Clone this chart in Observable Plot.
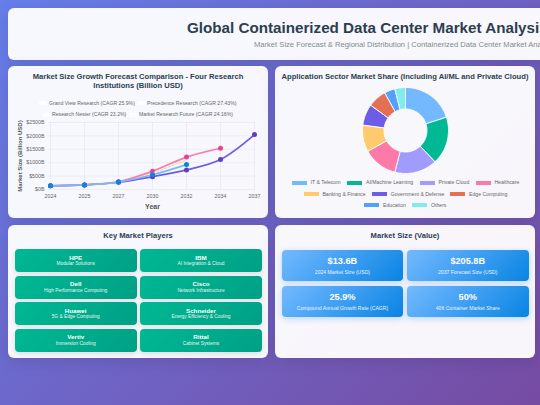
<!DOCTYPE html>
<html><head><meta charset="utf-8">
<script src="https://cdn.jsdelivr.net/npm/d3@7"></script>
<script src="https://cdn.jsdelivr.net/npm/@observablehq/plot@0.6"></script>
<style>
*{box-sizing:border-box;margin:0;padding:0}
html,body{width:540px;height:405px;overflow:hidden}
body{background:linear-gradient(135deg,#667eea 0%,#764ba2 100%);font-family:"Liberation Sans",Arial,sans-serif;position:relative}
.card{position:absolute;background:rgba(255,255,255,.95);border-radius:6px;box-shadow:0 4px 16px rgba(0,0,0,.1)}
#hdr{left:8px;top:8px;width:695px;height:52px}
#hdr h1{font-size:15.2px;line-height:18px;color:#2c3e50;margin-top:11px;margin-left:179px;font-weight:700;white-space:nowrap}
#hdr p{font-size:7.6px;line-height:9px;color:#7f8c8d;margin-top:3px;margin-left:246px;white-space:nowrap}
.t{font-weight:700;font-size:7.6px;line-height:9px;color:#2c3e50;text-align:center}
#c1{left:8px;top:66px;width:260px;height:152px}
#c2{left:275px;top:66px;width:260px;height:152px}
#c3{left:8px;top:225px;width:260px;height:133px}
#c4{left:275px;top:225px;width:260px;height:133px}
.abs{position:absolute}
.leg{position:absolute;font-size:5.15px;color:#666;white-space:nowrap;line-height:7px}
.sw{position:absolute;height:4px;width:15px}
.pl{position:absolute;width:122px;height:23px;border-radius:4px;background:linear-gradient(135deg,#00b894,#00a085);box-shadow:0 2px 5px rgba(0,0,0,.1);color:#fff;text-align:center}
.pl b{display:block;font-size:6.2px;line-height:7px;margin-top:4.5px}
.pl span{display:block;font-size:4.8px;line-height:6px;margin-top:.5px;opacity:.9}
.st{position:absolute;width:121.5px;height:31px;border-radius:4px;background:linear-gradient(135deg,#74b9ff,#0984e3);box-shadow:0 2px 6px rgba(9,132,227,.25);color:#fff;text-align:center}
.st b{display:block;font-size:9.2px;line-height:10px;margin-top:6px}
.st span{display:block;font-size:5.1px;line-height:6px;margin-top:3px;opacity:.9}
svg{overflow:visible;background:transparent}
</style></head><body>
<div class="card" id="hdr"><h1>Global Containerized Data Center Market Analysis</h1>
<p>Market Size Forecast &amp; Regional Distribution | Containerized Data Center Market Analysis Report</p></div>
<div class="card" id="c1"><div class="t abs" style="left:0;right:0;top:6px;padding:0 12px">Market Size Growth Forecast Comparison - Four Research Institutions (Billion USD)</div><div id="line" class="abs" style="left:-8px;top:-66px;width:276px"></div><div id="lineleg"></div></div>
<div class="card" id="c2"><div class="t abs" style="left:0;right:0;top:6px;white-space:nowrap">Application Sector Market Share (Including AI/ML and Private Cloud)</div><div id="donut" class="abs" style="left:0;top:0;width:260px"></div><div id="dleg"></div></div>
<div class="card" id="c3"><div class="t abs" style="left:0;right:0;top:6px">Key Market Players</div><div id="players"></div></div>
<div class="card" id="c4"><div class="t abs" style="left:0;right:0;top:6px">Market Size (Value)</div><div id="stats"></div></div>
<script>
const years=["2024","2025","2027","2030","2032","2034","2037"];
const mrfValues=[136,170,270,480,730,1120,2050];
const precedenceValues=[136,170,290,680,1210,1540];
const nesterValues=[136,170,280,620,1100];
const grandViewValues=[136,170,280,550,930];
const seriesNames=["Market Research Future","Precedence Research","Research Nester","Grand View Research"];
const lineColors=["#6c5ce7","#fd79a8","#fdcb6e","#74b9ff"];
const dotColors=["#5f3dc4","#e84393","#fdcb6e","#0984e3"];
const lineLegend=["Grand View Research (CAGR 25.9%)","Precedence Research (CAGR 27.43%)","Research Nester (CAGR 23.2%)","Market Research Future (CAGR 24.16%)"];
const yTicks=[0,500,1000,1500,2000,2500];
const sectors=["IT & Telecom","AI/Machine Learning","Private Cloud","Healthcare","Banking & Finance","Government & Defense","Edge Computing","Education","Others"];
const shares=[20,18,16,13,10,8,7,4,4];
const sectorColors=["#74b9ff","#00b894","#a29bfe","#fd79a8","#fdcb6e","#6c5ce7","#e17055","#54a0ff","#81ecec"];
const players=["HPE","IBM","Dell","Cisco","Huawei","Schneider","Vertiv","Rittal"];
const playerNotes=["Modular Solutions","AI Integration & Cloud","High Performance Computing","Network Infrastructure","5G & Edge Computing","Energy Efficiency & Cooling","Immersion Cooling","Cabinet Systems"];
const statValues=["$13.6B","$205.8B","25.9%","50%"];
const statLabels=["2024 Market Size (USD)","2037 Forecast Size (USD)","Compound Annual Growth Rate (CAGR)","40ft Container Market Share"];

// line chart
const allSeries=[mrfValues,precedenceValues,nesterValues,grandViewValues];
const rows=allSeries.flatMap((vals,i)=>vals.map((v,j)=>({year:years[j],value:v,series:seriesNames[i]})));
const byS=n=>rows.filter(r=>r.series===n);
const lineMarks=seriesNames.flatMap((n,i)=>[
  Plot.line(byS(n),{x:"year",y:"value",stroke:lineColors[i],strokeWidth:i===2?1:1.7,curve:"catmull-rom",strokeDasharray:i===2?"2,2":null}),
  i===2?null:Plot.dot(byS(n),{x:"year",y:"value",r:2.5,fill:dotColors[i],stroke:"none"})
]);
document.getElementById("line").append(Plot.plot({
  width:276,height:218,marginLeft:48,marginRight:21,marginTop:122,marginBottom:29,
  x:{type:"point",domain:years,padding:0,label:null,tickSize:0,tickPadding:5},
  y:{domain:[0,2500],ticks:yTicks,label:null,tickSize:0,tickPadding:4,tickFormat:d=>`$${d}B`},
  style:{fontSize:"5.3px",fontFamily:"Liberation Sans",color:"#666",background:"transparent"},
  marks:[
    Plot.gridX(years,{stroke:"#000",strokeOpacity:.08,strokeWidth:.6}),
    Plot.gridY(yTicks,{stroke:"#000",strokeOpacity:.08,strokeWidth:.6}),
    ...lineMarks.filter(Boolean),
    Plot.text(["Year"],{x:()=>"2030",y:()=>0,dy:17.5,lineAnchor:"middle",fontSize:7,fontWeight:"bold",fill:"#555",text:d=>d}),
    Plot.text(["Market Size (Billion USD)"],{frameAnchor:"left",dx:-28,textAnchor:"middle",rotate:-90,fontSize:6,fontWeight:"bold",fill:"#555",text:d=>d})
  ]
}));
const ll=document.getElementById("lineleg");
[[41,33.8],[139,33.8],[44,45.2],[131,45.2]].forEach((p,i)=>{
  const sw=document.createElement("div");sw.className="sw";sw.style.cssText=`left:${p[0]-10}px;top:${p[1]+1.5}px;width:7.5px;background:rgba(255,255,255,.75)`;
  const e=document.createElement("div");e.className="leg";e.style.left=p[0]+"px";e.style.top=p[1]+"px";e.textContent=lineLegend[i];ll.append(sw,e);
});

// donut
const pie=d3.pie().sort(null)(shares);
const ring=[];
pie.forEach((s,i)=>{
  const n=Math.max(2,Math.ceil((s.endAngle-s.startAngle)/0.03));
  const pts=[];
  for(let k=0;k<=n;k++){const a=s.startAngle+(s.endAngle-s.startAngle)*k/n;pts.push([Math.sin(a),Math.cos(a)]);}
  const outer=pts.map(p=>({sector:sectors[i],x:p[0],y:p[1]}));
  const inner=pts.slice().reverse().map(p=>({sector:sectors[i],x:p[0]*.5,y:p[1]*.5}));
  ring.push(...outer,...inner,outer[0]);
});
document.getElementById("donut").append(Plot.plot({
  width:260,height:152,margin:0,
  x:{domain:[-130/43,130/43],axis:null},
  y:{domain:[-88/43,64/43],axis:null},
  color:{domain:sectors,range:sectorColors},
  style:{background:"transparent"},
  marks:[Plot.line(ring,{x:"x",y:"y",z:"sector",fill:"sector",stroke:"#fff",strokeWidth:.9,curve:"linear"})]
}));
const dl=document.getElementById("dleg");
const dpos=[[17,116.7],[72.3,116.7],[144.7,116.7],[200.7,116.7],[28.7,128],[97,128],[175.3,128],[89.3,139.3],[137.3,139.3]];
dpos.forEach((p,i)=>{
  const sw=document.createElement("div");sw.className="sw";sw.style.cssText=`left:${p[0]}px;top:${p[1]-2}px;background:${sectorColors[i]}`;
  const e=document.createElement("div");e.className="leg";e.style.left=(p[0]+18.7)+"px";e.style.top=(p[1]-3.5)+"px";e.textContent=sectors[i];
  dl.append(sw,e);
});

// players
const ph=document.getElementById("players");
players.forEach((n,i)=>{
  const e=document.createElement("div");e.className="pl";
  e.style.left=(i%2?132:6.7)+"px";e.style.top=(24+Math.floor(i/2)*26.55)+"px";
  const b=document.createElement("b");b.textContent=n;const s=document.createElement("span");s.textContent=playerNotes[i];
  e.append(b,s);ph.append(e);
});
// stats
const sh=document.getElementById("stats");
statValues.forEach((n,i)=>{
  const e=document.createElement("div");e.className="st";
  e.style.left=(i%2?132:6.7)+"px";e.style.top=(25+Math.floor(i/2)*35.8)+"px";
  const b=document.createElement("b");b.textContent=n;const s=document.createElement("span");s.textContent=statLabels[i];
  e.append(b,s);sh.append(e);
});
</script>
</body></html>
